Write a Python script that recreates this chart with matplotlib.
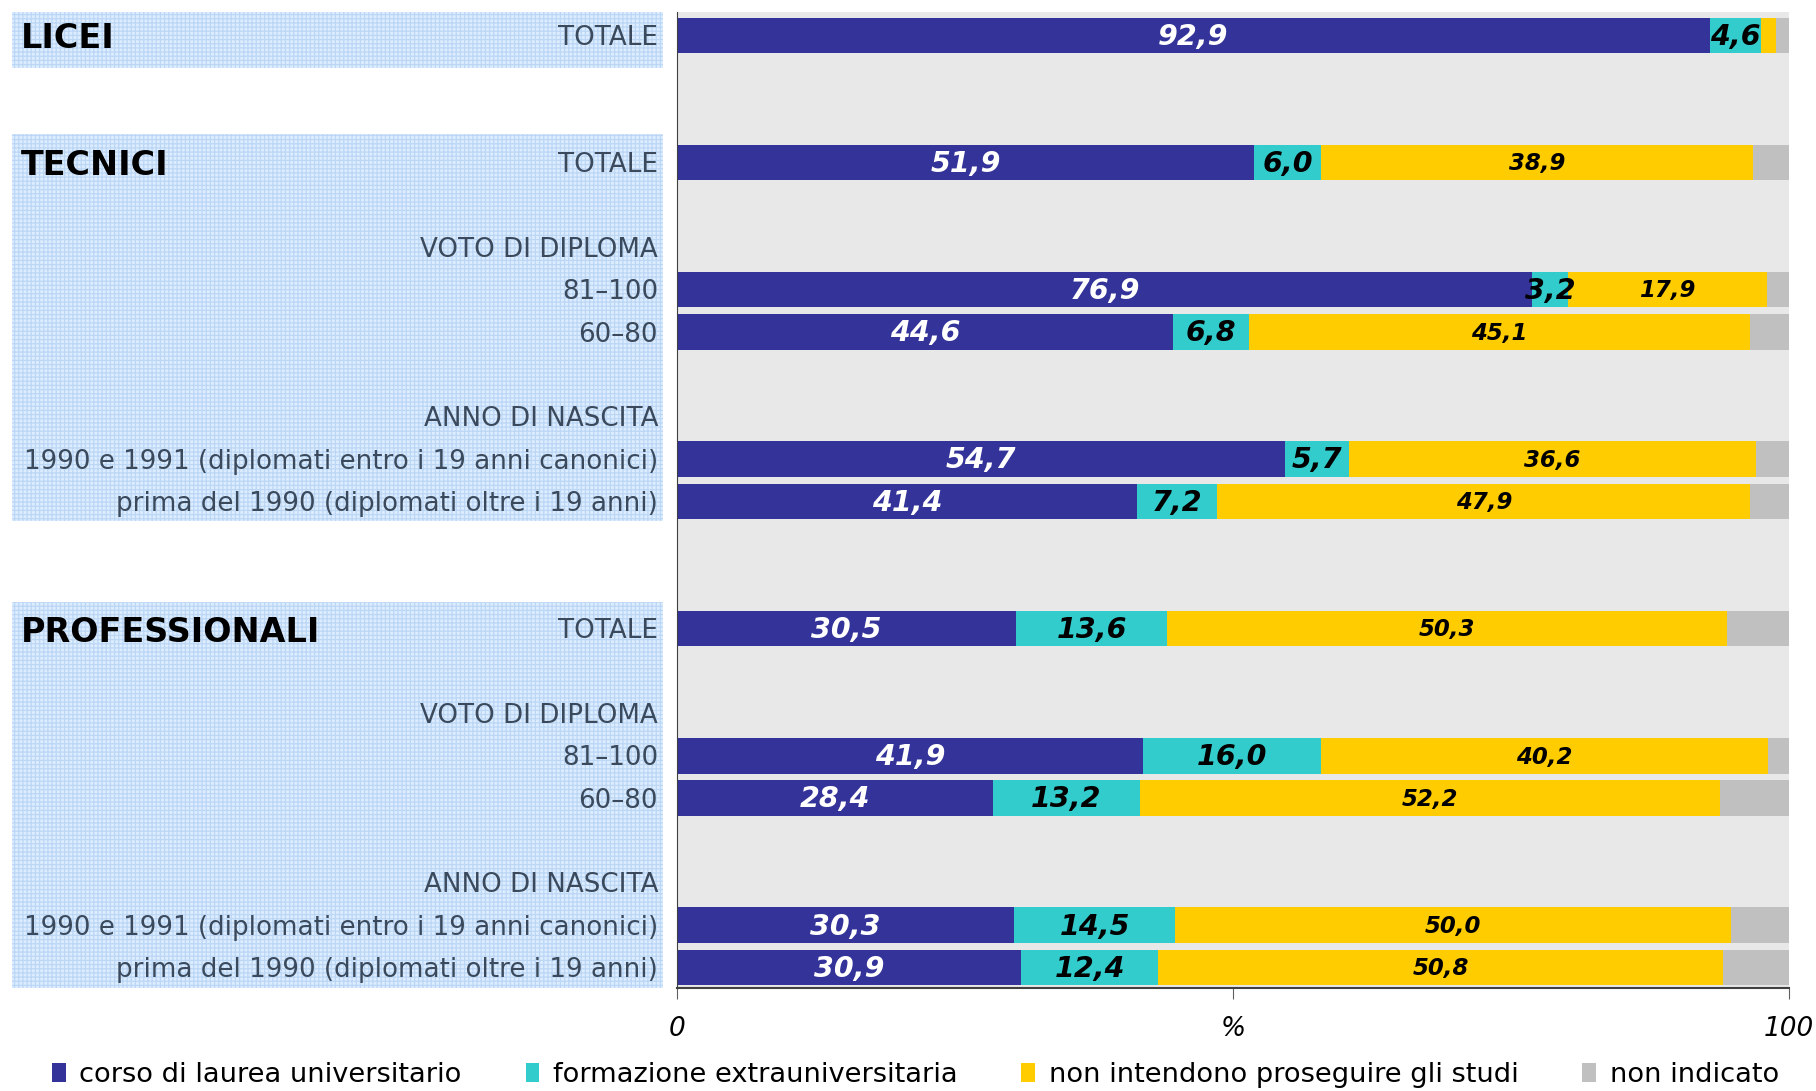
import matplotlib.pyplot as plt
from matplotlib.patches import Patch

# righe del grafico (dall'alto in basso)
row_labels = ['TOTALE',
              'TOTALE', 'VOTO DI DIPLOMA', '81–100', '60–80',
              'ANNO DI NASCITA', '1990 e 1991 (diplomati entro i 19 anni canonici)',
              'prima del 1990 (diplomati oltre i 19 anni)',
              'TOTALE', 'VOTO DI DIPLOMA', '81–100', '60–80',
              'ANNO DI NASCITA', '1990 e 1991 (diplomati entro i 19 anni canonici)',
              'prima del 1990 (diplomati oltre i 19 anni)']
row_pos = [0, 3, 5, 6, 7, 9, 10, 11, 14, 16, 17, 18, 20, 21, 22]

groups = ['LICEI', 'TECNICI', 'PROFESSIONALI']
group_row = [0, 3, 14]
group_span = [(-0.63, 0.78), (2.34, 11.45), (13.37, 22.48)]

# valori (%) per le righe con barra; None = riga di intestazione
laurea  = [92.9, 51.9, None, 76.9, 44.6, None, 54.7, 41.4, 30.5, None, 41.9, 28.4, None, 30.3, 30.9]
formaz  = [4.6,  6.0,  None, 3.2,  6.8,  None, 5.7,  7.2,  13.6, None, 16.0, 13.2, None, 14.5, 12.4]
nonpros = [1.3,  38.9, None, 17.9, 45.1, None, 36.6, 47.9, 50.3, None, 40.2, 52.2, None, 50.0, 50.8]
nonind  = [1.2,  3.2,  None, 2.0,  3.5,  None, 3.0,  3.5,  5.6,  None, 1.9,  6.2,  None, 5.2,  5.9]

series_names = ['corso di laurea universitario', 'formazione extrauniversitaria',
                'non intendono proseguire gli studi', 'non indicato']
colors = ['#333399', '#33CCCC', '#FFCC00', '#C0C0C0']

plt.rcParams['font.family'] = 'DejaVu Sans'

fig = plt.figure(figsize=(18.16, 10.91), dpi=100)
ax = fig.add_axes([677/1816, 1 - 988/1091, (1789-677)/1816, 976/1091])
axl = fig.add_axes([11.6/1816, 1 - 988/1091, (663.5-11.6)/1816, 976/1091], sharey=ax)

ax.set_facecolor('#E8E8E8')
ax.set_xlim(0, 100)
ax.set_ylim(22.48, -0.55)

series = [laurea, formaz, nonpros, nonind]
txt_col = ['white', 'black', 'black', None]
txt_size = [20.5, 20.5, 16.5, None]
for i, y in enumerate(row_pos):
    if laurea[i] is None:
        continue
    left = 0
    for k, s in enumerate(series):
        v = s[i]
        ax.barh(y, v, left=left, height=0.84, color=colors[k], zorder=2)
        if txt_col[k] and v >= 2:
            ax.text(left + v/2, y + 0.03, f'{v:.1f}'.replace('.', ','), ha='center', va='center',
                    color=txt_col[k], fontsize=txt_size[k], fontweight='bold',
                    fontstyle='italic', zorder=3)
        left += v

for side in ['top', 'right']:
    ax.spines[side].set_visible(False)
ax.spines['left'].set_color('#404040')
ax.spines['bottom'].set_color('#404040')
ax.spines['bottom'].set_linewidth(1.5)
ax.set_yticks([])
ax.set_xticks([0, 50, 100])
ax.set_xticklabels(['0', '%', '100'], fontsize=19, fontstyle='italic')
ax.tick_params(axis='x', length=8, color='#606060', pad=12)

# riquadri a sinistra
axl.set_xlim(0, 1)
axl.axis('off')
plt.rcParams['hatch.linewidth'] = 0.9
for (y0, y1) in group_span:
    axl.axhspan(y0, y1, facecolor='#DDEDFF', lw=0)
    axl.axhspan(y0, y1, facecolor='none', edgecolor='#BCD7F5', hatch='++++', lw=0)

for g, y in zip(groups, group_row):
    axl.text(0.0144, y + 0.08, g, ha='left', va='center', fontsize=24, fontweight='bold', color='black')
for lab, y in zip(row_labels, row_pos):
    axl.text(0.9916, y + 0.06, lab, ha='right', va='center', fontsize=18.8, color='#3A4A5C')

handles = [Patch(facecolor=c, edgecolor='none') for c in colors]
fig.legend(handles, series_names, loc='center left', bbox_to_anchor=(52/1816, 1 - 1075/1091),
           ncol=4, frameon=False, fontsize=19.6, handlelength=0.5, handleheight=0.65,
           handletextpad=0.5, columnspacing=2.35, borderaxespad=0, borderpad=0)

fig.savefig('out.png', dpi=100)
